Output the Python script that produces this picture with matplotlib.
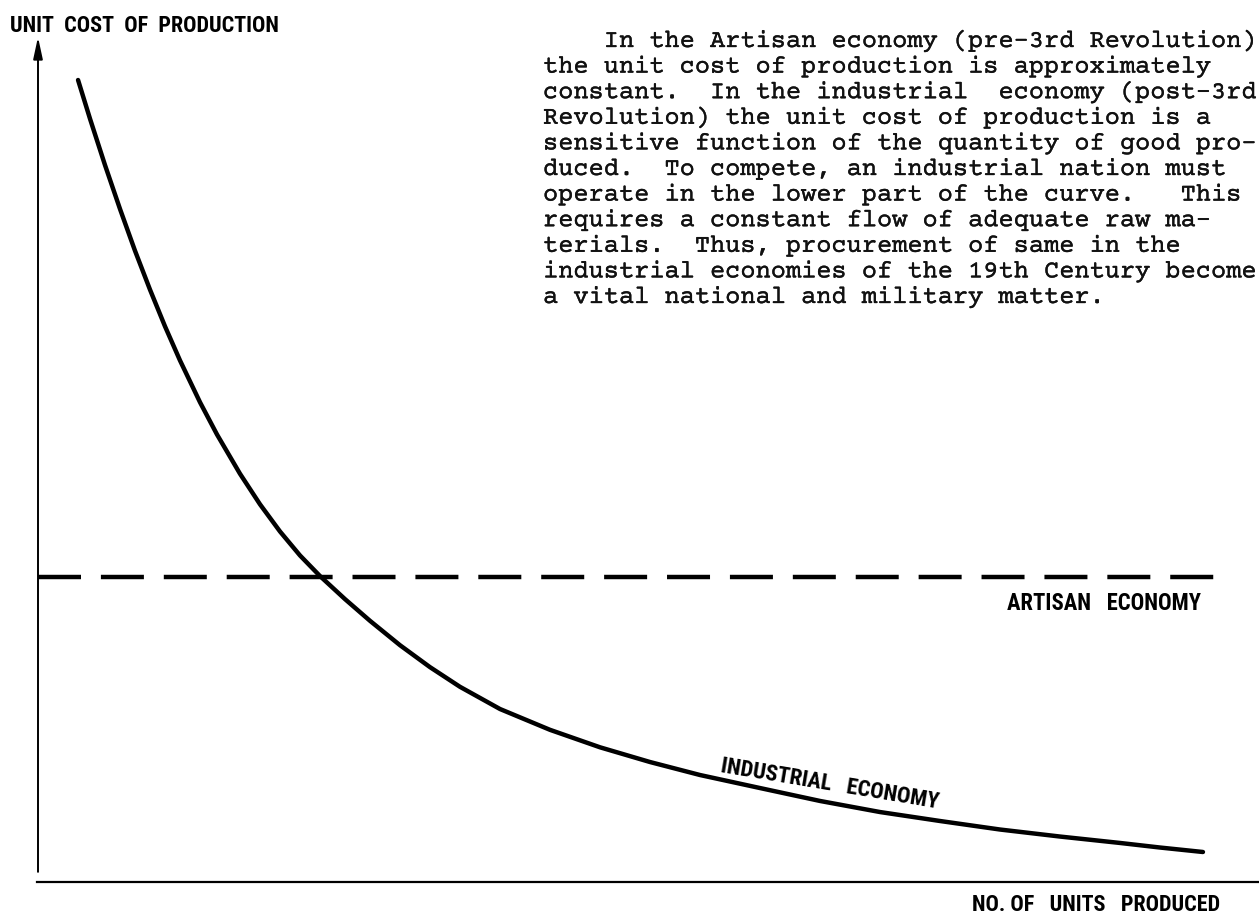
import matplotlib
matplotlib.use("Agg")
import matplotlib.pyplot as plt
from matplotlib import font_manager as fm
from matplotlib import patheffects as pe

# ---------------- data ----------------
# quantity produced (0..100 across the axis) and unit cost (0..100 up the axis)
quantity = [3.28, 4.26, 5.49, 6.72, 7.94, 9.17, 10.40, 11.63, 13.27, 14.66,
            16.54, 18.18, 19.82, 21.46, 23.10, 25.14, 27.19, 29.65, 32.10, 34.56,
            37.84, 41.93, 46.03, 50.12, 54.22, 59.13, 64.05, 68.96, 73.87, 78.79,
            83.70, 88.62, 91.89, 95.41]
industrial_cost = [94.91, 90.32, 84.83, 79.63, 74.72, 70.11, 65.76, 61.72, 56.77, 52.96,
                   48.32, 44.70, 41.48, 38.64, 36.20, 33.48, 30.91, 28.02, 25.43, 23.10,
                   20.47, 18.01, 15.94, 14.20, 12.66, 11.12, 9.59, 8.28, 7.22, 6.21,
                   5.38, 4.62, 4.08, 3.55]
artisan_quantity = [0.0, 96.4]
artisan_cost = [36.1, 36.1]

y_label = "UNIT  COST  OF  PRODUCTION"
x_label = "NO. OF   UNITS   PRODUCED"
artisan_label = "ARTISAN   ECONOMY"
industrial_label = "INDUSTRIAL   ECONOMY"
paragraph = [
    "    In the Artisan economy (pre-3rd Revolution)",
    "the unit cost of production is approximately",
    "constant.  In the industrial  economy (post-3rd",
    "Revolution) the unit cost of production is a",
    "sensitive function of the quantity of good pro-",
    "duced.  To compete, an industrial nation must",
    "operate in the lower part of the curve.   This",
    "requires a constant flow of adequate raw ma-",
    "terials.  Thus, procurement of same in the",
    "industrial economies of the 19th Century become",
    "a vital national and military matter.",
]

# ---------------- layout ----------------
W, H, DPI = 1259, 917, 100
fig = plt.figure(figsize=(W / DPI, H / DPI), dpi=DPI, facecolor="white")

ax_left, ax_right, ax_bottom, ax_top = 38, 1259, 882, 37
ax = fig.add_axes([ax_left / W, (H - ax_bottom) / H,
                   (ax_right - ax_left) / W, (ax_bottom - ax_top) / H])
ax.set_xlim(0, 100)
ax.set_ylim(0, 100)
ax.axis("off")

# ---------------- fonts ----------------
WEIGHTS = {"ultralight": 200, "light": 300, "normal": 400, "regular": 400, "book": 400,
           "medium": 500, "roman": 400, "semibold": 600, "demibold": 600, "demi": 600,
           "bold": 700, "heavy": 800, "extra bold": 800, "black": 900}
PREF = ["liberation sans narrow", "roboto condensed", "noto sans", "open sans",
        "dejavu sans", "lato", "inter"]


def weight_num(w):
    if isinstance(w, (int, float)):
        return int(w)
    return WEIGHTS.get(str(w).lower(), 400)


def pick_condensed():
    best, best_score = None, None
    for f in fm.fontManager.ttflist:
        n = f.name.lower()
        fn = f.fname.lower()
        st = str(f.stretch).lower()
        cond = ("narrow" in n or "condensed" in n or "narrow" in fn or "condensed" in fn
                or st in ("condensed", "semi-condensed", "extra-condensed", "ultra-condensed"))
        if not cond or "mono" in n or "mono" in fn:
            continue
        if "serif" in n and "sans" not in n:
            continue
        if f.style != "normal" or "italic" in fn or "oblique" in fn:
            continue
        pref = len(PREF)
        for i, p in enumerate(PREF):
            if n.startswith(p):
                pref = i
                break
        if "semicondensed" in fn or "semi-condensed" in st:
            pref += 0.5
        score = (pref, abs(weight_num(f.weight) - 700))
        if best_score is None or score < best_score:
            best, best_score = f, score
    return best


cf = pick_condensed()
if cf is not None:
    def label_fp(size):
        return fm.FontProperties(fname=cf.fname, size=size)
else:
    def label_fp(size):
        return fm.FontProperties(family="DejaVu Sans", weight="bold", size=size)

names = {f.name for f in fm.fontManager.ttflist}
mono_family = "Liberation Mono"
for cand in ["Courier Prime", "Courier New", "Nimbus Mono PS", "FreeMono", "Liberation Mono"]:
    if cand in names:
        mono_family = cand
        break

renderer = fig.canvas.get_renderer()


def px(x, y):
    return x / W, 1 - y / H


def fit(t, target_w):
    rot = t.get_rotation()
    t.set_rotation(0)
    bb = t.get_window_extent(renderer=renderer)
    t.set_fontsize(t.get_fontsize() * target_w / bb.width)
    t.set_rotation(rot)
    return t


# ---------------- axes lines ----------------
ax.axhline(0, xmin=-0.001, xmax=1, color="black", lw=1.6, clip_on=False)
ax.annotate("", xy=(0, 1), xycoords="axes fraction",
            xytext=(0, 0.012), textcoords="axes fraction",
            arrowprops=dict(arrowstyle="-|>,head_length=0.65,head_width=0.14",
                            lw=1.4, color="black", mutation_scale=20,
                            shrinkA=0, shrinkB=0))

# ---------------- series ----------------
ax.plot(artisan_quantity, artisan_cost, color="black", lw=3.2,
        dashes=(9.675, 4.478), dash_capstyle="butt", clip_on=False)
ax.plot(quantity, industrial_cost, color="black", lw=3.2,
        solid_capstyle="round", solid_joinstyle="round", clip_on=False)

# ---------------- labels ----------------
t = fig.text(*px(10, 32), y_label, ha="left", va="baseline", fontproperties=label_fp(17))
fit(t, 271)
t = fig.text(*px(1007, 610), artisan_label, ha="left", va="baseline", fontproperties=label_fp(17))
fit(t, 195)
t = fig.text(*px(972, 911), x_label, ha="left", va="baseline", fontproperties=label_fp(17))
fit(t, 250)
t = fig.text(*px(830, 784), industrial_label, ha="center", va="center",
             rotation=-9.5, rotation_mode="anchor", fontproperties=label_fp(17))
fit(t, 222)

# ---------------- paragraph (typewriter text, 47 columns) ----------------
probe = fig.text(0, 0, "x" * 47, family=mono_family, fontsize=18)
bb = probe.get_window_extent(renderer=renderer)
mono_size = 18 * 714 / bb.width
probe.remove()
ink = [pe.withStroke(linewidth=0.25, foreground="#111111")]
for i, line in enumerate(paragraph):
    fig.text(*px(543, 47 + i * 25.6), line, ha="left", va="baseline",
             family=mono_family, fontsize=mono_size, color="#111111",
             path_effects=ink)

fig.savefig("out.png", dpi=DPI, facecolor="white")
